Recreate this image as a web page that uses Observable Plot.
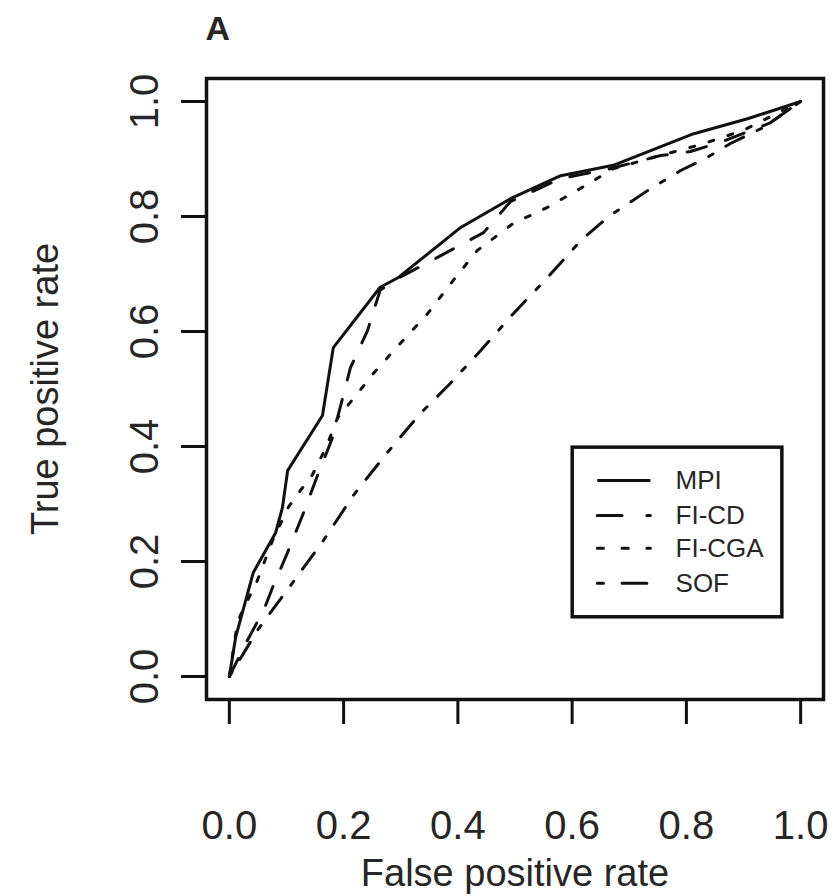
<!DOCTYPE html>
<html>
<head>
<meta charset="utf-8">
<script src="https://cdn.jsdelivr.net/npm/d3@7"></script>
<script src="https://cdn.jsdelivr.net/npm/@observablehq/plot@0.6"></script>
<style>
  html, body { margin: 0; padding: 0; background: #fff; }
  #chart svg { display: block; }
</style>
</head>
<body>
<div id="chart"></div>
<script>
// ---- Data ----
const seriesNames = ["MPI", "FI-CD", "FI-CGA", "SOF"];

const mpiFPR = [0, 0.011, 0.042, 0.081, 0.093, 0.102, 0.163, 0.182, 0.264, 0.296, 0.405, 0.492, 0.580, 0.672, 0.813, 0.907, 1];
const mpiTPR = [0, 0.068, 0.181, 0.250, 0.294, 0.358, 0.454, 0.572, 0.677, 0.694, 0.781, 0.831, 0.871, 0.889, 0.944, 0.970, 1];

const fiCdFPR = [0, 0.030, 0.060, 0.075, 0.102, 0.128, 0.151, 0.180, 0.194, 0.212, 0.242, 0.264, 0.300, 0.357, 0.445, 0.492, 0.580, 0.662, 0.755, 0.807, 0.860, 0.947, 1];
const fiCdTPR = [0, 0.060, 0.115, 0.153, 0.216, 0.280, 0.341, 0.414, 0.468, 0.537, 0.602, 0.672, 0.695, 0.725, 0.772, 0.826, 0.866, 0.882, 0.906, 0.913, 0.929, 0.963, 1];

const fiCgaFPR = [0, 0.012, 0.019, 0.049, 0.075, 0.103, 0.124, 0.145, 0.170, 0.189, 0.233, 0.252, 0.299, 0.347, 0.392, 0.434, 0.497, 0.557, 0.615, 0.672, 0.750, 0.825, 0.900, 1];
const fiCgaTPR = [0, 0.080, 0.106, 0.167, 0.235, 0.294, 0.323, 0.350, 0.400, 0.449, 0.503, 0.527, 0.579, 0.631, 0.689, 0.741, 0.788, 0.816, 0.849, 0.883, 0.905, 0.925, 0.950, 1];

const sofFPR = [0, 0.051, 0.107, 0.165, 0.217, 0.277, 0.334, 0.387, 0.440, 0.497, 0.557, 0.615, 0.664, 0.732, 0.790, 0.837, 0.877, 0.935, 1];
const sofTPR = [0, 0.083, 0.158, 0.237, 0.315, 0.390, 0.457, 0.510, 0.567, 0.631, 0.694, 0.758, 0.800, 0.845, 0.880, 0.903, 0.927, 0.955, 1];

const tickValues = [0, 0.2, 0.4, 0.6, 0.8, 1.0];
const tickLabels = ["0.0", "0.2", "0.4", "0.6", "0.8", "1.0"];

// R-style line types (in units, scaled below)
const dashUnits = [null, [4, 4], [1, 3], [1, 3, 4, 3]];

// ---- Build the table ----
const xs = [mpiFPR, fiCdFPR, fiCgaFPR, sofFPR];
const ys = [mpiTPR, fiCdTPR, fiCgaTPR, sofTPR];
const rows = [];
seriesNames.forEach((name, i) => {
  xs[i].forEach((x, j) => rows.push({ series: name, fpr: x, tpr: ys[i][j] }));
});

const ink = "#111";
const textInk = "#262626";
const dashStr = (units, k) => units ? units.map(u => u * k).join(",") : null;

const lineMarks = seriesNames.map((name, i) =>
  Plot.line(rows.filter(r => r.series === name), {
    x: "fpr", y: "tpr",
    stroke: ink, strokeWidth: 3,
    strokeDasharray: dashStr(dashUnits[i], 5),
    strokeLinecap: dashUnits[i] ? "round" : "butt",
    strokeLinejoin: "round"
  })
);

// Legend (layout constants in data units of the panel)
const legBox = { x1: 0.601, x2: 0.968, y1: 0.103, y2: 0.398 };
const legRowY = [0.341, 0.280, 0.223, 0.162];
const legendMarks = [
  Plot.rect([0], { x1: legBox.x1, x2: legBox.x2, y1: legBox.y1, y2: legBox.y2, fill: "white", stroke: ink, strokeWidth: 3.5 }),
  ...seriesNames.map((name, i) =>
    Plot.link([name], {
      x1: 0.644, x2: 0.737, y1: legRowY[i], y2: legRowY[i],
      stroke: ink, strokeWidth: 3,
      strokeDasharray: dashStr(dashUnits[i], 6.2),
      strokeLinecap: dashUnits[i] ? "round" : "butt"
    })
  ),
  Plot.text(seriesNames, {
    x: 0.781, y: (d, i) => legRowY[i], text: d => d,
    textAnchor: "start", lineAnchor: "middle", fontSize: 26, fill: textInk
  })
];

const chart = Plot.plot({
  width: 839,
  height: 896,
  marginLeft: 206,
  marginRight: 16,
  marginTop: 78,
  marginBottom: 197,
  style: { fontFamily: "'Liberation Sans', Arial, Helvetica, sans-serif", background: "white", color: textInk },
  x: { domain: [-0.04, 1.04] },
  y: { domain: [-0.04, 1.04] },
  marks: [
    Plot.axisX({
      ticks: tickValues, tickFormat: (d, i) => tickLabels[i],
      tickSize: 25, tickPadding: 86, fontSize: 40, strokeWidth: 3, stroke: ink, label: null
    }),
    Plot.axisY({
      ticks: tickValues, tickFormat: (d, i) => tickLabels[i],
      tickSize: 25, tickPadding: 24, tickRotate: -90, fontSize: 40, strokeWidth: 3, stroke: ink, label: null
    }),
    ...lineMarks,
    ...legendMarks,
    Plot.frame({ stroke: ink, strokeWidth: 3.5 }),
    Plot.text(["False positive rate"], { frameAnchor: "bottom", dy: 174, textAnchor: "middle", lineAnchor: "middle", fontSize: 38, fill: textInk }),
    Plot.text(["True positive rate"], { frameAnchor: "left", dx: -161, rotate: -90, textAnchor: "middle", lineAnchor: "middle", fontSize: 38, fill: textInk }),
    Plot.text(["A"], { frameAnchor: "top-left", dx: -1, dy: -49, textAnchor: "start", lineAnchor: "middle", fontSize: 34, fontWeight: "bold", fill: textInk })
  ]
});

document.getElementById("chart").appendChild(chart);
</script>
</body>
</html>
